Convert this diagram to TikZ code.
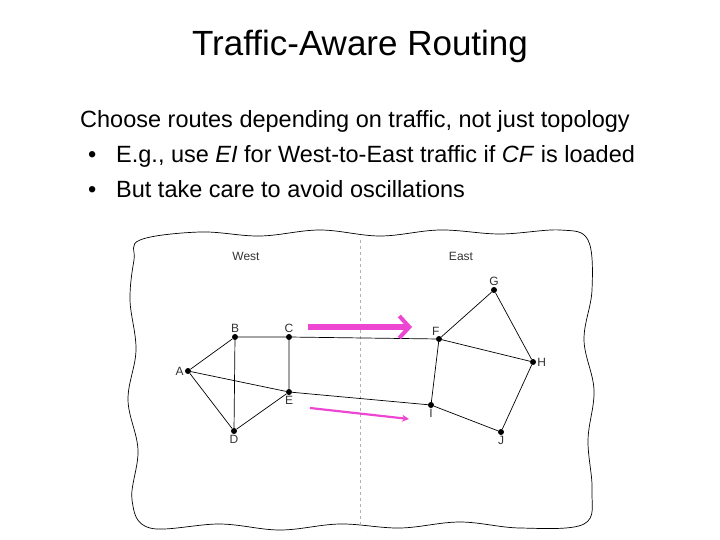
\documentclass[tikz,border=0pt]{standalone}
\usepackage{fontspec}
\setmainfont{Liberation Sans}
\usetikzlibrary{arrows.meta,positioning}
\definecolor{pk}{RGB}{236,70,210}
\begin{document}
\begin{tikzpicture}[x=1pt,y=-1pt,
  vtx/.style={circle,fill=black,inner sep=0pt,minimum size=6pt},
  lbl/.style={font=\fontsize{12}{13}\selectfont,text=black!80,inner sep=1pt},
  edge/.style={line width=0.7pt},
  txt/.style={anchor=base west,font=\fontsize{23.5}{27}\selectfont,inner sep=0pt}]
\useasboundingbox (0,0) rectangle (720,540);
\node[font=\fontsize{35}{40}\selectfont] (title) at (360,46) {Traffic-Aware Routing};
\node[txt] (l1) at (80,128) {Choose routes depending on traffic, not just topology};
\node[txt] (b1) at (88,163) {•};
\node[txt] (l2) at (116,163) {E.g., use \textit{EI} for West-to-East traffic if \textit{CF} is loaded};
\node[txt] (b2) at (88,197) {•};
\node[txt] (l3) at (116,197) {But take care to avoid oscillations};
% cloud
\draw[line width=0.7pt] plot[smooth cycle,tension=0.6] coordinates {
 (140,240) (200,232) (260,236) (320,230) (380,236) (440,230) (500,234) (560,230) (588,240)
 (592,290) (584,340) (594,390) (588,440) (592,490) (584,524) (520,528) (460,522) (400,528)
 (340,524) (280,530) (220,524) (150,528) (132,500) (138,450) (128,400) (136,350) (130,300) (134,260)};
\coordinate (dt) at (360,240); \coordinate (db) at (360,528);
\draw[dashed,gray!60,line width=0.5pt] (dt) -- (db);
\node[lbl] (west) at (246,256) {West};
\node[lbl] (east) at (461,256) {East};
\node[vtx] (A) at (188,371) {}; \node[lbl,left=0pt of A] (lA) {A};
\node[vtx] (B) at (235,337) {}; \node[lbl,above=0pt of B] (lB) {B};
\node[vtx] (C) at (289,337) {}; \node[lbl,above=0pt of C] (lC) {C};
\node[vtx] (D) at (234,431) {}; \node[lbl,below=0pt of D] (lD) {D};
\node[vtx] (E) at (289,392) {}; \node[lbl,below=0pt of E] (lE) {E};
\node[vtx] (F) at (439,339) {}; \node[lbl,above left=0pt and -4pt of F] (lF) {F};
\node[vtx] (G) at (494,290) {}; \node[lbl,above=0pt of G] (lG) {G};
\node[vtx] (H) at (533,362) {}; \node[lbl,right=0pt of H] (lH) {H};
\node[vtx] (I) at (431,405) {}; \node[lbl,below=0pt of I] (lI) {I};
\node[vtx] (J) at (501,432) {}; \node[lbl,below=0pt of J] (lJ) {J};
\draw[edge] (A)--(B) (A)--(D) (A)--(E) (B)--(C) (B)--(D) (C)--(E) (D)--(E)
 (C)--(F) (E)--(I) (F)--(I) (F)--(G) (G)--(H) (F)--(H) (H)--(J) (I)--(J);
\coordinate (a1s) at (308,327); \coordinate (a1e) at (412,327);
\draw[pk,line width=6pt,-{Straight Barb[length=10pt,width=22pt,line width=4pt]}] (a1s) -- (a1e);
\coordinate (a2s) at (310,408); \coordinate (a2e) at (409,419);
\draw[pk,line width=2.2pt,-{Stealth[length=7pt,width=7pt]}] (a2s) -- (a2e);
\end{tikzpicture}
\end{document}
